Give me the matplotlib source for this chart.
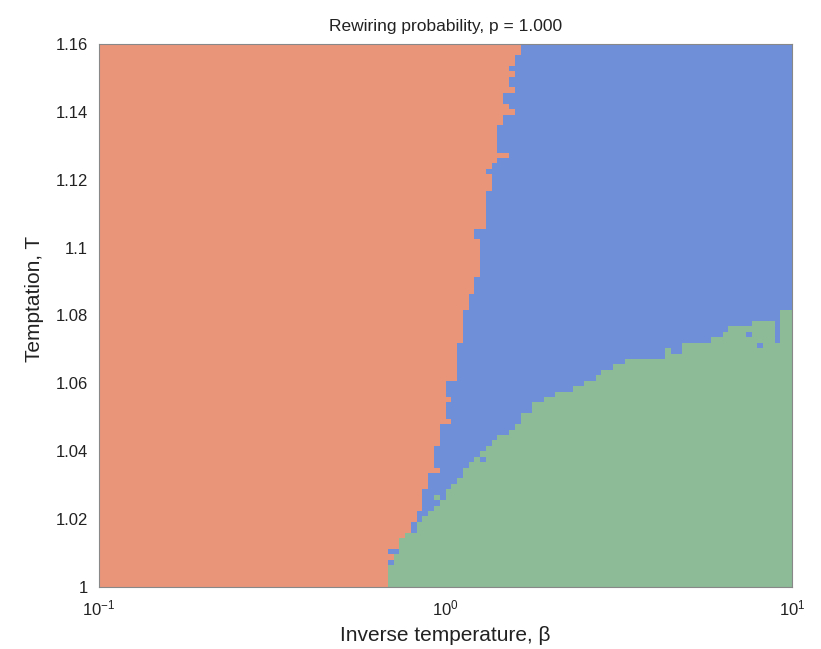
import numpy as np
import matplotlib
matplotlib.use("Agg")
import matplotlib.pyplot as plt
from matplotlib.colors import ListedColormap
from matplotlib.ticker import FixedLocator, FixedFormatter

# ---------------- data ----------------
# grid of inverse temperatures (beta, log-spaced) and temptations T
n_beta = 120
n_T = 100
beta_min, beta_max = 0.1, 10.0
T_min, T_max = 1.0, 1.16

# for every T row (bottom -> top): beta where the "orange" phase ends
orange_boundary = [
    0.669, 0.669, 0.673, 0.692, 0.692, 0.706, 0.706, 0.739, 0.739, 0.760,
    0.780, 0.780, 0.827, 0.827, 0.844, 0.844, 0.844, 0.844, 0.884, 0.884,
    0.900, 0.945, 0.920, 0.920, 0.920, 0.920, 0.964, 0.964, 0.964, 0.977,
    1.010, 1.010, 1.010, 1.010, 1.044, 1.017, 1.017, 1.017, 1.065, 1.086,
    1.086, 1.086, 1.070, 1.065, 1.065, 1.138, 1.138, 1.138, 1.138, 1.116,
    1.116, 1.150, 1.150, 1.170, 1.192, 1.192, 1.192, 1.200, 1.258, 1.258,
    1.258, 1.258, 1.258, 1.258, 1.233, 1.233, 1.326, 1.326, 1.326, 1.326,
    1.326, 1.326, 1.326, 1.362, 1.362, 1.340, 1.326, 1.362, 1.408, 1.505,
    1.437, 1.437, 1.437, 1.437, 1.437, 1.466, 1.480, 1.566, 1.505, 1.466,
    1.466, 1.566, 1.515, 1.535, 1.566, 1.535, 1.587, 1.600, 1.640, 1.663,
]

# for every beta column (left -> right): T below which the "green" phase holds
green_top = [1.000] * 49 + [
    1.0000, 1.0059, 1.0100, 1.0136, 1.0153, 1.0168, 1.0195, 1.0209, 1.0218, 1.0242,
    1.0262, 1.0283, 1.0304, 1.0321, 1.0351, 1.0368, 1.0389, 1.0404, 1.0413, 1.0427,
    1.0442, 1.0451, 1.0469, 1.0483, 1.0504, 1.0516, 1.0536, 1.0548, 1.0557, 1.0563,
    1.0575, 1.0581, 1.0581, 1.0584, 1.0598, 1.0607, 1.0613, 1.0616, 1.0634, 1.0640,
    1.0654, 1.0663, 1.0666, 1.0666, 1.0669, 1.0669, 1.0672, 1.0675, 1.0678, 1.0698,
    1.0693, 1.0693, 1.0713, 1.0728, 1.0728, 1.0728, 1.0728, 1.0734, 1.0740, 1.0751,
    1.0772, 1.0763, 1.0769, 1.0775, 1.0781, 1.0787, 1.0787, 1.0787, 1.0728, 1.0810,
    1.0822,
]

# isolated cells (beta, T, phase): 0 = orange, 1 = blue, 2 = green
speck_beta = [1.28, 7.41, 8.08, 1.24, 1.03, 0.706, 0.945]
speck_T = [1.0383, 1.0737, 1.0719, 1.0925, 1.0483, 1.0100, 1.0271]
speck_phase = [1, 1, 1, 0, 0, 1, 2]

phase_colors = ["#E9957A", "#6F8FD9", "#8DBA97"]

title = "Rewiring probability, p = 1.000"
xlabel = "Inverse temperature, \u03b2"
ylabel = "Temptation, T"
yticks = [1.0, 1.02, 1.04, 1.06, 1.08, 1.10, 1.12, 1.14, 1.16]
ytick_labels = ["1", "1.02", "1.04", "1.06", "1.08", "1.1", "1.12", "1.14", "1.16"]
xticks = [0.1, 1.0, 10.0]
xtick_labels = [r"$10^{-1}$", r"$10^{0}$", r"$10^{1}$"]

# ---------------- build phase grid ----------------
beta_edges = np.logspace(np.log10(beta_min), np.log10(beta_max), n_beta + 1)
T_edges = np.linspace(T_min, T_max, n_T + 1)
beta_c = np.sqrt(beta_edges[:-1] * beta_edges[1:])
T_c = 0.5 * (T_edges[:-1] + T_edges[1:])

ob = np.array(orange_boundary)[:, None]
gt = np.array(green_top)[None, :]
phase = np.where(beta_c[None, :] < ob, 0,
                 np.where(T_c[:, None] < gt, 2, 1))
for b, t, p in zip(speck_beta, speck_T, speck_phase):
    j = np.searchsorted(beta_edges, b) - 1
    i = np.searchsorted(T_edges, t) - 1
    phase[i, j] = p

# ---------------- plot ----------------
plt.rcParams["font.family"] = ["Liberation Sans", "DejaVu Sans"]
plt.rcParams["mathtext.fontset"] = "custom"
plt.rcParams["mathtext.rm"] = "Liberation Sans"
plt.rcParams["mathtext.it"] = "Liberation Sans:italic"

fig = plt.figure(figsize=(8.21, 6.49), dpi=100)
ax = fig.add_axes([99 / 821, 62 / 649, 693 / 821, 543 / 649])

cmap = ListedColormap(phase_colors)
ax.pcolormesh(beta_edges, T_edges, phase, cmap=cmap, vmin=-0.5, vmax=2.5,
              shading="flat", antialiased=False, linewidth=0)
ax.set_xscale("log")
ax.set_xlim(beta_min, beta_max)
ax.set_ylim(T_min, T_max)

ax.xaxis.set_major_locator(FixedLocator(xticks))
ax.xaxis.set_major_formatter(FixedFormatter(xtick_labels))
ax.xaxis.set_minor_locator(FixedLocator([]))
ax.yaxis.set_major_locator(FixedLocator(yticks))
ax.yaxis.set_major_formatter(FixedFormatter(ytick_labels))
ax.tick_params(axis="both", length=0, labelsize=12, colors="#222222", pad=8)

for s in ax.spines.values():
    s.set_color("#888888")
    s.set_linewidth(0.8)

ax.set_title(title, fontsize=12.5, color="#222222", pad=9)
ax.set_xlabel(xlabel, fontsize=15, color="#222222", labelpad=6)
ax.set_ylabel(ylabel, fontsize=15, color="#222222", labelpad=10)
ax.yaxis.set_label_coords(-0.08, 0.53)

fig.savefig("out.png", dpi=100)
